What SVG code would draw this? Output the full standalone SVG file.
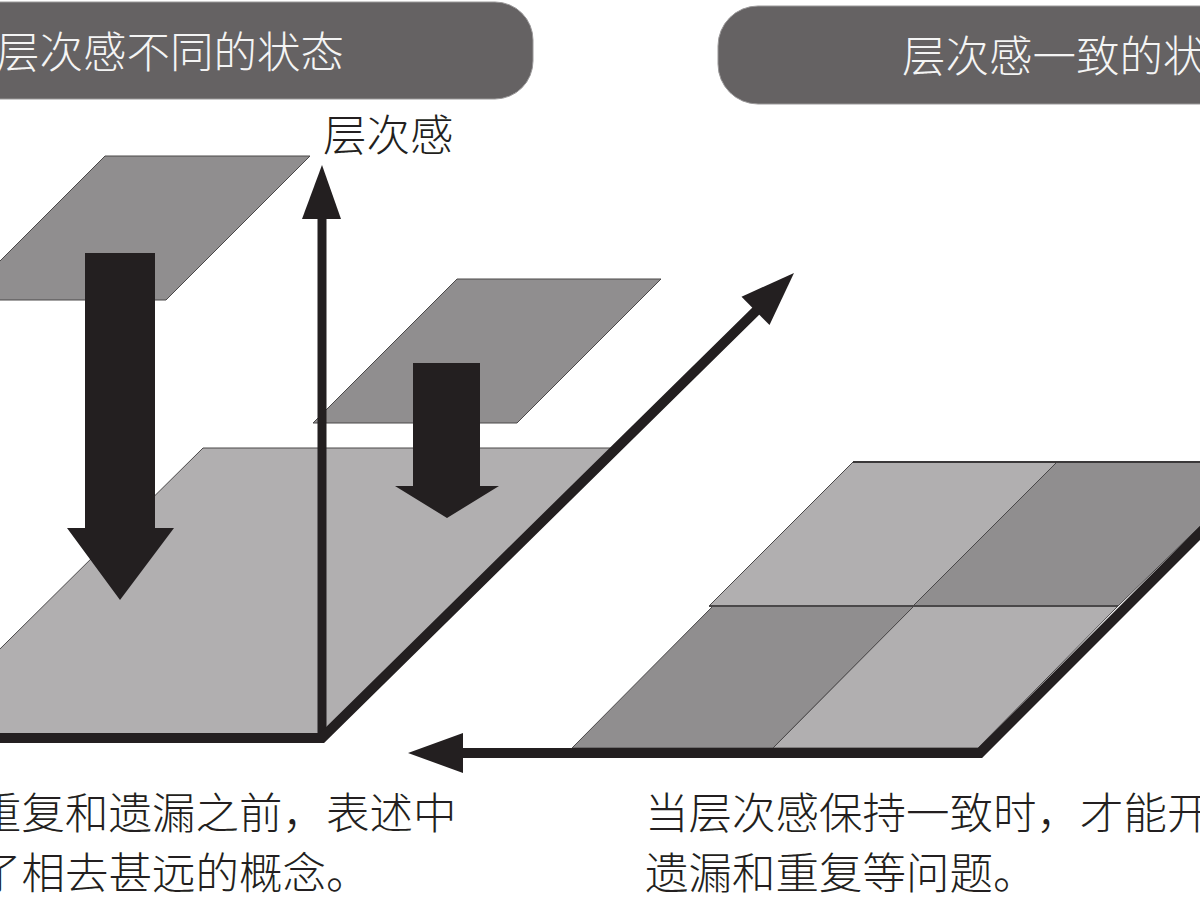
<svg xmlns="http://www.w3.org/2000/svg" width="1200" height="900" viewBox="0 0 1200 900">
<defs>
<style>
.t{font-family:"Noto Sans CJK SC","Noto Sans",sans-serif;font-size:43.5px;font-weight:300;}
.hd{fill:#f4f4f4;}
.bd{fill:#231f20;}
.banner{fill:#656263;stroke:#9a9899;stroke-width:1;}
.lt{fill:#b1afb0;stroke:#4a4849;stroke-width:1;}
.dk{fill:#908e8f;stroke:#4a4849;stroke-width:1;}
.blk{fill:#231f20;}
.band{fill:none;stroke:#231f20;stroke-width:10;stroke-linejoin:miter;stroke-miterlimit:10;}
</style>
</defs>
<rect width="1200" height="900" fill="#ffffff"/>

<g id="header-left">
<rect class="banner" x="-60" y="2" width="593" height="97" rx="38" ry="38"/>
<text class="t hd" x="-4" y="68">层次感不同的状态</text>
</g>
<g id="header-right">
<rect class="banner" x="718" y="6" width="560" height="98" rx="40" ry="40"/>
<text class="t hd" x="902" y="72">层次感一致的状态</text>
</g>

<g id="left-diagram">
<g id="plate-top">
<polygon class="dk" points="105,156 310,156 166,300 -39,300"/>
</g>
<g id="plate-base">
<polygon class="lt" points="203,448 612,448 322,738 -90,738"/>
</g>
<g id="plate-middle">
<polygon class="dk" points="457,279 661,279 517,423 313,423"/>
</g>
</g>

<g id="right-diagram">
<polygon class="lt" points="853,462 1057,462 913,606 709,606"/>
<polygon class="dk" points="1057,462 1266,462 1118,606 913,606"/>
<polygon class="dk" points="713,606 914,606 773,748 572,748"/>
<polygon class="lt" points="914,606 1118,606 978,748 773,748"/>
<line x1="853" y1="462" x2="1266" y2="462" stroke="#3a3839" stroke-width="2"/>
<line x1="709" y1="606" x2="1118" y2="606" stroke="#4a4849" stroke-width="2"/>
</g>

<g id="connectors">
<polygon id="arrow-big" class="blk" points="85,253 155,253 155,528 174,528 120,600 67,528 85,528"/>
<polygon id="arrow-small" class="blk" points="413,363 480,363 480,486 499,486 447,518 395,486 413,486"/>
<line id="axis-y" x1="322" y1="738" x2="322" y2="216" stroke="#231f20" stroke-width="9"/>
<polygon class="blk" points="322,165 302,219 341,219"/>
<path id="axis-left" class="band" d="M -20 738 L 322 738 L 758 309"/>
<polygon class="blk" points="794,273 769.5,325 741.5,296.7"/>
<path id="axis-right" class="band" d="M 460 753 L 980 753 L 1285 448"/>
<polygon class="blk" points="408,753 463,733 463,773"/>
</g>

<g id="labels">
<text class="t bd" x="323" y="151">层次感</text>
<text class="t bd" x="-22" y="829">重复和遗漏之前，表述中</text>
<text class="t bd" x="-22" y="889">了相去甚远的概念。</text>
<text class="t bd" x="645" y="829">当层次感保持一致时，才能开</text>
<text class="t bd" x="645" y="889">遗漏和重复等问题。</text>
</g>
</svg>
